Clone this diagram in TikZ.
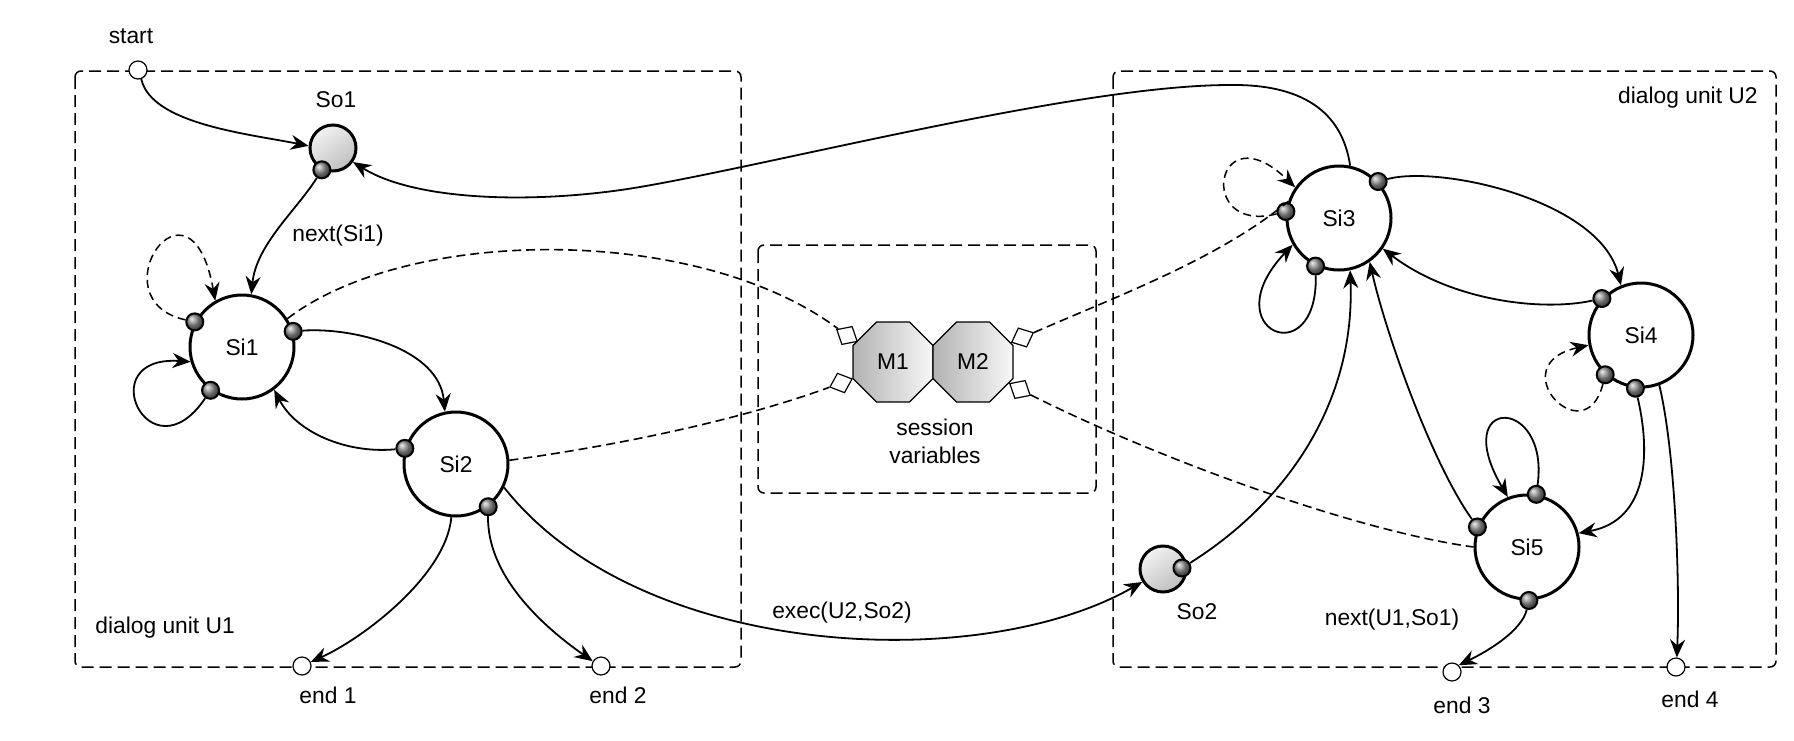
\documentclass[tikz,border=0pt]{standalone}
\usepackage{fontspec}
\setmainfont{Liberation Sans}
\usetikzlibrary{arrows.meta,shapes.geometric,shadings}
\begin{document}
\begin{tikzpicture}[x=0.5pt,y=-0.5pt,
  txt/.style={font=\fontsize{11.4}{14}\selectfont},
  state/.style={circle, draw, line width=1.5pt, minimum size=52pt, inner sep=0pt, fill=white, txt},
  port/.style={circle, draw, line width=1pt, minimum size=8.5pt, inner sep=0pt, ball color=black!45},
  terminal/.style={circle, draw, line width=0.6pt, minimum size=9pt, inner sep=0pt, fill=white},
  entry/.style={circle, draw, line width=1.5pt, minimum size=23pt, inner sep=0pt, top color=white!95!black, bottom color=black!25, shading angle=35},
  mem/.style={regular polygon, regular polygon sides=8, minimum size=43.3pt, draw, line width=0.6pt, inner sep=0pt, left color=black!30, right color=white!97!black, txt},
  plug/.style={diamond, draw, fill=white, line width=0.6pt, minimum width=12pt, minimum height=10.5pt, inner sep=0pt},
  unit/.style={draw, dash pattern=on 6pt off 3pt, line width=0.75pt, rounded corners=3pt},
  edge/.style={line width=0.9pt, -{Stealth[length=9pt,width=7.5pt,inset=3pt]}},
  dedge/.style={edge, line width=0.75pt, dash pattern=on 4pt off 2.5pt},
  link/.style={line width=0.8pt, dash pattern=on 4.5pt off 2.5pt},
  lbl/.style={txt, inner sep=0pt}]
\useasboundingbox (0,0) rectangle (1794,740);

% boxes
\draw[unit] (75,71) rectangle (741,667);
\draw[unit] (1113,71) rectangle (1776,667);
\draw[unit] (758,245) rectangle (1096,493);

% nodes
\node[terminal] (start) at (138,70) {};
\node[entry] (So1) at (333,148) {};
\node[state] (Si1) at (242,347) {Si1};
\node[state] (Si2) at (456,464) {Si2};
\node[terminal] (end1) at (302,666) {};
\node[terminal] (end2) at (601,666) {};

\node[mem] (M1) at (893,362) {M1};
\node[mem] (M2) at (973,362) {M2};
\node[plug, rotate=150] (dA) at (847,335.5) {};
\node[plug, rotate=200] (dB) at (841,383) {};
\node[plug, rotate=24] (dC) at (1022.5,337.5) {};
\node[plug, rotate=-30] (dD) at (1020,389.5) {};

\node[state] (Si3) at (1339,218) {Si3};
\node[state] (Si4) at (1641,335) {Si4};
\node[state] (Si5) at (1527,547) {Si5};
\node[entry] (So2) at (1163,569) {};
\node[terminal] (end3) at (1452,672) {};
\node[terminal] (end4) at (1676,667) {};

% ports
\node[port] (pSo1) at (So1.-117) {};
\node[port] (pSo2) at (1182,568) {};
\node[port] (p1a) at (Si1.152) {};
\node[port] (p1b) at (Si1.17) {};
\node[port] (p1c) at (Si1.234) {};
\node[port] (p2a) at (Si2.163) {};
\node[port] (p2b) at (Si2.-53) {};
\node[port] (p3a) at (Si3.43) {};
\node[port] (p3b) at (Si3.173) {};
\node[port] (p3c) at (Si3.-116) {};
\node[port] (p4a) at (Si4.137) {};
\node[port] (p4b) at (Si4.-132) {};
\node[port] (p4c) at (Si4.-96) {};
\node[port] (p5a) at (Si5.80) {};
\node[port] (p5b) at (Si5.158) {};
\node[port] (p5c) at (Si5.-88) {};

% labels
\node[lbl] (tstart) at (131,36) {start};
\node[lbl] (tSo1) at (336,100) {So1};
\node[lbl] (tnext1) at (338,236) {next(Si1)};
\node[lbl, anchor=west] (tU1) at (95,628) {dialog unit U1};
\node[lbl] (te1) at (328,695) {end 1};
\node[lbl] (te2) at (618,695) {end 2};
\node[lbl] (texec) at (842,613) {exec(U2,So2)};
\node[lbl, align=center] (tsess) at (935,441) {session\\variables};
\node[lbl, anchor=east] (tU2) at (1758,98) {dialog unit U2};
\node[lbl] (tSo2) at (1197,612) {So2};
\node[lbl] (tnext2) at (1392,620) {next(U1,So1)};
\node[lbl] (te3) at (1462,705) {end 3};
\node[lbl] (te4) at (1690,699) {end 4};

% edges U1
\draw[edge] (start.-70) .. controls +(10,45) and +(-60,-12) .. (So1.175);
\draw[edge] (pSo1) .. controls +(-25,40) and +(5,-50) .. (Si1.80);
\draw[dedge] (p1a) .. controls (95,300) and (190,160) .. (Si1.120);
\draw[edge] (p1c) .. controls (150,480) and (90,355) .. (Si1.196);
\draw[edge] (p1b) .. controls (352,327) and (439,348) .. (Si2.102);
\draw[edge] (p2a) .. controls (346,454) and (296,432) .. (Si1.-53);
\draw[edge] (Si2.-95) .. controls (446,576) and (362,639) .. (end1.25);
\draw[edge] (p2b) .. controls (487,575) and (541,625) .. (end2.150);
\draw[edge] (Si2.-26) .. controls (640,660) and (980,675) .. (So2.-148);
% long return edge
\draw[edge] (Si3.78) .. controls (1342,110) and (1300,84) .. (1230,85)
   .. controls (1080,85) and (780,163) .. (640,187)
   .. controls (540,204) and (417,202) .. (So1.-35);
% edges U2
\draw[dedge] (p3b) .. controls (1195,235) and (1215,110) .. (Si3.145);
\draw[edge] (p3c) .. controls (1318,375) and (1212,330) .. (Si3.210);
\draw[edge] (p3a) .. controls (1440,165) and (1600,200) .. (Si4.112);
\draw[edge] (p4a) .. controls (1540,312) and (1450,300) .. (Si3.-35);
\draw[dedge] (p4b) .. controls (1585,455) and (1500,365) .. (Si4.191);
\draw[edge] (p4c) .. controls (1650,450) and (1650,520) .. (Si5.15);
\draw[edge] (Si4.-70) .. controls (1675,450) and (1680,580) .. (end4.85);
\draw[edge] (pSo2) .. controls (1290,500) and (1355,400) .. (Si3.-78);
\draw[edge] (p5b) .. controls (1430,460) and (1385,330) .. (Si3.-55);
\draw[edge] (p5a) .. controls (1550,395) and (1448,395) .. (Si5.111);
\draw[edge] (p5c) .. controls (1522,630) and (1490,650) .. (end3.45);
% session variable links
\draw[link] (Si1.32) .. controls (410,225) and (700,225) .. (dA);
\draw[link] (Si2.4) .. controls (620,445) and (740,420) .. (dB);
\draw[link] (dC) .. controls (1120,295) and (1220,258) .. (Si3.162);
\draw[link] (dD) .. controls (1150,455) and (1350,530) .. (Si5.180);
\end{tikzpicture}
\end{document}
